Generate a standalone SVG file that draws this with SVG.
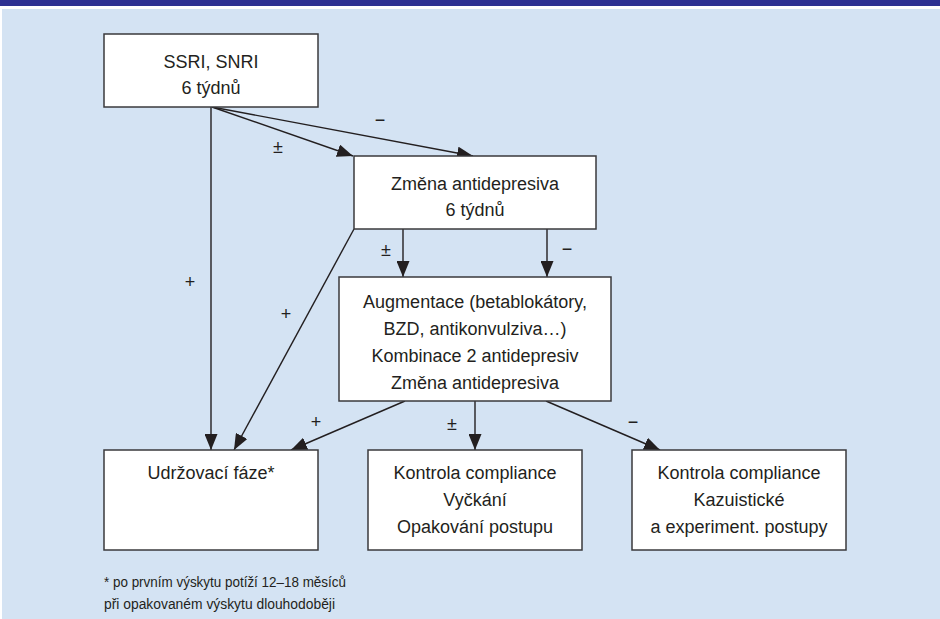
<svg xmlns="http://www.w3.org/2000/svg" width="940" height="619" viewBox="0 0 940 619">
<defs>
<style>
.box{fill:#fff;stroke:#3a3a3c;stroke-width:1.5}
.t{font-family:"Liberation Sans",Arial,sans-serif;font-size:18px;fill:#231f20;text-anchor:middle}
.lbl{font-family:"Liberation Sans",Arial,sans-serif;font-size:18px;fill:#231f20;text-anchor:middle}
.fn{font-family:"Liberation Sans",Arial,sans-serif;font-size:14px;fill:#231f20}
.c{stroke:#231f20;stroke-width:1.4;fill:none;marker-end:url(#ah)}
</style>
<marker id="ah" markerUnits="userSpaceOnUse" markerWidth="17" markerHeight="13" refX="16" refY="6.5" orient="auto">
<path d="M0,0 L16,6.5 L0,13 z" fill="#231f20"/>
</marker>
</defs>
<rect x="0" y="0" width="940" height="619" fill="#fff"/>
<rect x="0" y="0" width="940" height="6" fill="#2e3192"/>
<rect x="2" y="9" width="938" height="610" fill="#d4e3f3"/>

<g id="connectors">
<line class="c" x1="211" y1="107" x2="211" y2="450"/>
<line class="c" x1="212" y1="107" x2="353" y2="156"/>
<line class="c" x1="212" y1="107" x2="473" y2="156"/>
<line class="c" x1="354" y1="229" x2="234" y2="450"/>
<line class="c" x1="403" y1="229" x2="403" y2="277"/>
<line class="c" x1="547" y1="229" x2="547" y2="277"/>
<line class="c" x1="405" y1="401" x2="291" y2="450"/>
<line class="c" x1="475" y1="401" x2="475" y2="450"/>
<line class="c" x1="546" y1="401" x2="660" y2="450"/>
<text class="lbl" x="190" y="288">+</text>
<text class="lbl" x="278" y="153">±</text>
<text class="lbl" x="380" y="126">−</text>
<text class="lbl" x="286" y="320">+</text>
<text class="lbl" x="386" y="256">±</text>
<text class="lbl" x="567" y="255">−</text>
<text class="lbl" x="316" y="428">+</text>
<text class="lbl" x="452" y="430">±</text>
<text class="lbl" x="633" y="428">−</text>
</g>

<g id="n1">
<rect class="box" x="104" y="34" width="214" height="73"/>
<text class="t" x="211" y="68">SSRI, SNRI</text>
<text class="t" x="211" y="94">6 týdnů</text>
</g>
<g id="n2">
<rect class="box" x="354" y="156" width="242" height="73"/>
<text class="t" x="475" y="190">Změna antidepresiva</text>
<text class="t" x="475" y="216">6 týdnů</text>
</g>
<g id="n3">
<rect class="box" x="339" y="277" width="272" height="124"/>
<text class="t" x="475" y="308">Augmentace (betablokátory,</text>
<text class="t" x="475" y="335">BZD, antikonvulziva…)</text>
<text class="t" x="475" y="362">Kombinace 2 antidepresiv</text>
<text class="t" x="475" y="389">Změna antidepresiva</text>
</g>
<g id="n4">
<rect class="box" x="104" y="450" width="214" height="100"/>
<text class="t" x="211" y="479">Udržovací fáze*</text>
</g>
<g id="n5">
<rect class="box" x="368" y="450" width="214" height="100"/>
<text class="t" x="475" y="479">Kontrola compliance</text>
<text class="t" x="475" y="506">Vyčkání</text>
<text class="t" x="475" y="533">Opakování postupu</text>
</g>
<g id="n6">
<rect class="box" x="632" y="450" width="214" height="100"/>
<text class="t" x="739" y="479">Kontrola compliance</text>
<text class="t" x="739" y="506">Kazuistické</text>
<text class="t" x="739" y="533">a experiment. postupy</text>
</g>
<g id="footnote">
<text class="fn" x="104" y="587" textLength="242" lengthAdjust="spacingAndGlyphs">* po prvním výskytu potíží 12–18 měsíců</text>
<text class="fn" x="104" y="609" textLength="231" lengthAdjust="spacingAndGlyphs">při opakovaném výskytu dlouhodoběji</text>
</g>
</svg>
